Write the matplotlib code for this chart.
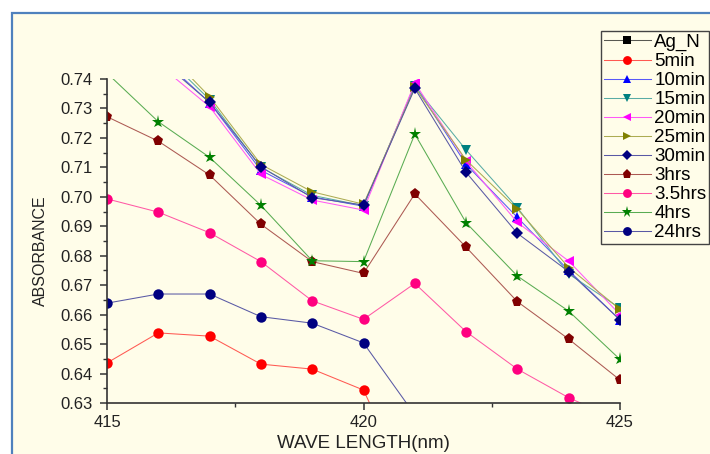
import matplotlib.pyplot as plt
from matplotlib.colors import to_rgb
from matplotlib.patches import Rectangle
from matplotlib.ticker import MultipleLocator, FormatStrFormatter

plt.rcParams['font.family'] = ['Liberation Sans', 'DejaVu Sans']

wavelength = [415, 416, 417, 418, 419, 420, 421, 422, 423, 424, 425]

ag_n     = [0.810, 0.800, 0.790, 0.780, 0.775, 0.770, 0.800, 0.790, 0.780, 0.770, 0.760]
min5     = [0.6436, 0.6538, 0.6527, 0.6432, 0.6415, 0.6344, 0.597, 0.590, 0.584, 0.580, 0.575]
min10    = [0.765, 0.748, 0.7320, 0.7090, 0.7000, 0.6968, 0.7380, 0.7110, 0.6930, 0.6750, 0.6582]
min15    = [0.768, 0.750, 0.7330, 0.7100, 0.7005, 0.6970, 0.7375, 0.7159, 0.6963, 0.6738, 0.6622]
min20    = [0.762, 0.745, 0.7306, 0.7076, 0.6989, 0.6955, 0.7387, 0.7120, 0.6913, 0.6782, 0.6600]
min25    = [0.770, 0.752, 0.7340, 0.7110, 0.7017, 0.6975, 0.7372, 0.7125, 0.6958, 0.6760, 0.6618]
min30    = [0.764, 0.747, 0.7321, 0.7102, 0.6997, 0.6972, 0.7368, 0.7083, 0.6876, 0.6746, 0.6582]
hrs3     = [0.7272, 0.7189, 0.7074, 0.6907, 0.6780, 0.6740, 0.7010, 0.6829, 0.6644, 0.6517, 0.6378]
hrs3_5   = [0.6993, 0.6948, 0.6878, 0.6780, 0.6647, 0.6584, 0.6706, 0.6542, 0.6415, 0.6318, 0.6240]
hrs4     = [0.7420, 0.7255, 0.7134, 0.6971, 0.6783, 0.6780, 0.7213, 0.6912, 0.6731, 0.6612, 0.6448]
hrs24    = [0.6639, 0.6670, 0.6670, 0.6593, 0.6571, 0.6504, 0.6260, 0.6200, 0.6150, 0.6100, 0.6050]

series = [
    ('Ag_N', ag_n, 's', '#000000'),
    ('5min', min5, 'o', '#ff0000'),
    ('10min', min10, '^', '#0000ff'),
    ('15min', min15, 'v', '#008080'),
    ('20min', min20, '<', '#ff00ff'),
    ('25min', min25, '>', '#808000'),
    ('30min', min30, 'D', '#000080'),
    ('3hrs', hrs3, 'p', '#800000'),
    ('3.5hrs', hrs3_5, 'o', '#ff0080'),
    ('4hrs', hrs4, '*', '#008000'),
    ('24hrs', hrs24, 'o', '#000080'),
]

cream = '#fffde9'


def faded(c, k=0.35):
    # thin connecting lines look washed out against the cream background
    r, g, b = to_rgb(c)
    bg = to_rgb(cream)
    return tuple(x * (1 - k) + y * k for x, y in zip((r, g, b), bg))


fig = plt.figure(figsize=(7.10, 4.54), dpi=100, facecolor='white')
fig.patches.append(Rectangle((12 / 710, -0.05), 1.0, 1 - 13 / 454 + 0.05,
                             transform=fig.transFigure, facecolor=cream,
                             edgecolor='#4f81bd', linewidth=1.6, zorder=-5))

ax = fig.add_axes([107 / 710, 1 - 403 / 454, 513 / 710, 324 / 454])
ax.set_facecolor(cream)

sizes = {'s': 6, 'o': 7.5, '^': 7.5, 'v': 7.5, '<': 7.5, '>': 7.5, 'D': 6.5, 'p': 8, '*': 9.5}
for name, vals, mk, col in series:
    ax.plot(wavelength, vals, color=faded(col), lw=0.75, marker=mk,
            markersize=sizes[mk], markerfacecolor=col, markeredgewidth=0,
            label=name)

ax.set_xlim(415, 425)
ax.set_ylim(0.63, 0.74)
ax.xaxis.set_major_locator(MultipleLocator(5))
ax.xaxis.set_minor_locator(MultipleLocator(2.5))
ax.yaxis.set_major_locator(MultipleLocator(0.01))
ax.yaxis.set_minor_locator(MultipleLocator(0.005))
ax.yaxis.set_major_formatter(FormatStrFormatter('%.2f'))
ax.spines['top'].set_visible(False)
ax.spines['right'].set_visible(False)
for s in ('left', 'bottom'):
    ax.spines[s].set_color('#333333')
    ax.spines[s].set_linewidth(1.2)
ax.tick_params(which='major', length=5, width=1.1, color='#333333',
               labelsize=12, labelcolor='#222222')
ax.tick_params(axis='y', which='major', pad=5)
ax.tick_params(which='minor', length=3, width=1.0, color='#333333')

ax.set_xlabel('WAVE LENGTH(nm)', fontsize=13.5, color='#222222', labelpad=4)
ax.set_ylabel('ABSORBANCE', fontsize=11.5, color='#222222')
ax.yaxis.set_label_coords(-0.115, 0.47)

leg = ax.legend(loc='upper left', bbox_to_anchor=(601 / 710, 1 - 31 / 454),
                bbox_transform=fig.transFigure, fontsize=13.5, frameon=True,
                fancybox=False, handlelength=2.5, handletextpad=0.2,
                labelspacing=0.1, borderpad=0.15, borderaxespad=0,
                markerscale=0.85)
leg.get_frame().set_facecolor(cream)
leg.get_frame().set_edgecolor('#444444')
leg.get_frame().set_linewidth(1.0)
leg.get_frame().set_alpha(1)

fig.savefig('out.png', dpi=100, facecolor='white')
